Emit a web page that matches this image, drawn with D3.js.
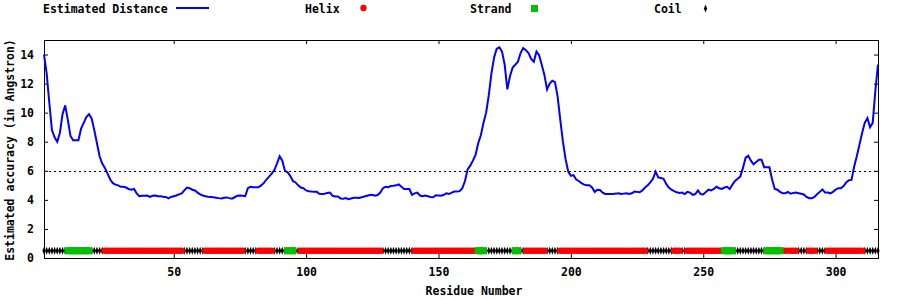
<!DOCTYPE html>
<html>
<head>
<meta charset="utf-8">
<script src="https://cdn.jsdelivr.net/npm/d3@7"></script>
<style>
  body { margin: 0; background: #fff; }
  svg text {
    font-family: "DejaVu Sans Mono", "Liberation Mono", monospace;
    font-weight: bold;
    font-size: 11.5px;
    fill: #000;
  }
</style>
</head>
<body>
<svg id="chart" width="900" height="300"></svg>
<script>
  "use strict";

  // estimated distance per residue, residue 1 .. 316
  const distance = [
    14.0, 12.7, 10.7, 8.8, 8.3, 8.0, 8.6, 9.9, 10.5, 9.5,
    8.4, 8.1, 8.1, 8.1, 8.9, 9.3, 9.7, 9.9, 9.6, 8.8,
    7.9, 7.0, 6.5, 6.2, 5.8, 5.4, 5.15, 5.05, 5.0, 4.9,
    4.9, 4.85, 4.75, 4.7, 4.75, 4.45, 4.25, 4.28, 4.28, 4.3,
    4.2, 4.28, 4.3, 4.25, 4.25, 4.22, 4.2, 4.1, 4.2, 4.25,
    4.3, 4.38, 4.45, 4.65, 4.85, 4.8, 4.7, 4.65, 4.5, 4.38,
    4.3, 4.25, 4.22, 4.2, 4.18, 4.15, 4.12, 4.1, 4.15, 4.17,
    4.12, 4.08, 4.18, 4.28, 4.3, 4.28, 4.25, 4.8, 4.9, 4.87,
    4.87, 4.87, 5.0, 5.15, 5.4, 5.6, 5.8, 6.05, 6.5, 7.0,
    6.7, 6.0, 5.9, 5.65, 5.3, 5.2, 5.0, 4.85, 4.8, 4.65,
    4.6, 4.57, 4.55, 4.55, 4.42, 4.4, 4.42, 4.48, 4.5, 4.28,
    4.23, 4.23, 4.1, 4.08, 4.12, 4.05, 4.1, 4.14, 4.14, 4.13,
    4.18, 4.23, 4.28, 4.33, 4.35, 4.28, 4.33, 4.5, 4.8, 4.9,
    4.87, 4.95, 4.97, 5.0, 5.06, 4.9, 4.75, 4.75, 4.75, 4.35,
    4.45, 4.5, 4.3, 4.25, 4.3, 4.25, 4.2, 4.18, 4.32, 4.3,
    4.28, 4.35, 4.45, 4.4, 4.5, 4.57, 4.58, 4.6, 4.8, 5.3,
    6.1, 6.35, 6.7, 7.1, 7.9, 8.45, 9.3, 10.0, 11.2, 12.7,
    13.8, 14.4, 14.5, 14.2, 13.3, 11.6, 12.5, 13.1, 13.3, 13.5,
    14.1, 14.45, 14.3, 14.1, 13.7, 13.5, 14.2, 13.95, 13.3, 12.6,
    11.6, 12.0, 12.2, 12.1, 11.1, 9.5, 8.0, 6.8, 5.95, 5.65,
    5.7, 5.4, 5.3, 5.15, 5.05, 5.0, 5.0, 4.85, 4.55, 4.7,
    4.68, 4.5, 4.41, 4.41, 4.41, 4.41, 4.43, 4.46, 4.4, 4.43,
    4.46, 4.4, 4.45, 4.57, 4.55, 4.52, 4.65, 4.85, 5.0, 5.2,
    5.45, 5.95, 5.55, 5.5, 5.45, 5.1, 4.85, 4.7, 4.6, 4.52,
    4.47, 4.5, 4.4, 4.55, 4.5, 4.35, 4.4, 4.65, 4.4, 4.37,
    4.55, 4.7, 4.65, 4.75, 4.9, 4.8, 4.75, 4.85, 4.9, 4.75,
    5.05, 5.3, 5.45, 5.6, 6.2, 6.9, 7.03, 6.7, 6.45, 6.6,
    6.76, 6.76, 6.25, 6.25, 6.25, 5.4, 4.75, 4.7, 4.55, 4.46,
    4.46, 4.55, 4.42, 4.48, 4.5, 4.46, 4.42, 4.37, 4.2, 4.11,
    4.11, 4.2, 4.38, 4.55, 4.72, 4.5, 4.5, 4.45, 4.55, 4.7,
    4.8, 4.8, 4.95, 5.2, 5.35, 5.37, 6.3, 7.0, 7.8, 8.6,
    9.3, 9.63, 9.0, 9.3, 11.5, 13.3
  ];

  // secondary structure segments, [first residue, last residue]
  const helixSegments = [
    [24, 53], [62, 76], [82, 87], [98, 128], [141, 164], [183, 190],
    [196, 228], [239, 241], [244, 257], [280, 281], [283, 285],
    [290, 292], [297, 310]
  ];
  const strandSegments = [
    [10, 18], [93, 95], [165, 167], [179, 180], [258, 261], [274, 279]
  ];
  const coilSegments = [
    [1, 9], [19, 23], [54, 61], [77, 81], [88, 92], [96, 97],
    [129, 140], [168, 178], [181, 182], [191, 195], [229, 238],
    [242, 243], [262, 273], [282, 282], [286, 289], [293, 296],
    [311, 316]
  ];

  // the structure track sits at this height on the y axis
  const trackLevel = 0.5;

  const xTicks = [50, 100, 150, 200, 250, 300];
  const yTicks = [0, 2, 4, 6, 8, 10, 12, 14];
  const threshold = 6;

(function(){

  // plot frame
  const mLeft = 44, mRight = 878, mTop = 40, mBottom = 258;

  const svg = d3.select("#chart");

  const x = d3.scaleLinear().domain([1, distance.length]).range([mLeft, mRight]);
  const y = d3.scaleLinear().domain([0, 15]).range([mBottom, mTop]);

  // turns [start, end] segments into one point per residue
  function expand(segments){
    let pts = [];
    segments.forEach(([a, b]) => {
      for (let r = a; r <= b; r++) pts.push(r);
    });
    return pts;
  }

  // axes, ticks pointing inwards on all four sides
  svg.append("g")
     .attr("transform", `translate(0,${mBottom})`)
     .call(d3.axisBottom(x).tickValues(xTicks).tickSizeInner(-4).tickSizeOuter(0).tickPadding(10))
     .call(g => g.select(".domain").remove());
  svg.append("g")
     .attr("transform", `translate(0,${mTop})`)
     .call(d3.axisTop(x).tickValues(xTicks).tickSizeInner(-4).tickSizeOuter(0).tickFormat(""))
     .call(g => g.select(".domain").remove());
  svg.append("g")
     .attr("transform", `translate(${mLeft},0)`)
     .call(d3.axisLeft(y).tickValues(yTicks).tickSizeInner(-4).tickSizeOuter(0).tickPadding(10))
     .call(g => g.select(".domain").remove());
  svg.append("g")
     .attr("transform", `translate(${mRight},0)`)
     .call(d3.axisRight(y).tickValues(yTicks).tickSizeInner(-4).tickSizeOuter(0).tickFormat(""))
     .call(g => g.select(".domain").remove());

  svg.selectAll(".tick line").attr("stroke", "#000");
  svg.selectAll(".tick text")
     .attr("font-family", null)
     .attr("font-size", null);

  // border
  svg.append("rect")
     .attr("x", mLeft + 0.5).attr("y", mTop + 0.5)
     .attr("width", mRight - mLeft).attr("height", mBottom - mTop)
     .attr("fill", "none").attr("stroke", "#000").attr("stroke-width", 1);

  // dotted 6 angstrom line
  let ly = Math.round(y(threshold)) + 0.5;
  svg.append("line")
     .attr("x1", mLeft).attr("x2", mRight)
     .attr("y1", ly).attr("y2", ly)
     .attr("stroke", "#000").attr("stroke-width", 1)
     .attr("stroke-dasharray", "2,3");

  // distance curve
  const line = d3.line()
                 .x((d, i) => x(i + 1))
                 .y(d => y(d));
  svg.append("path")
     .datum(distance)
     .attr("d", line)
     .attr("fill", "none")
     .attr("stroke", "#0000ff")
     .attr("stroke-width", 2);

  // structure track: coil first, then helix and strand on top
  const ty = y(trackLevel);
  const diamond = d3.symbol().type(d3.symbolDiamond).size(9);

  svg.append("g").selectAll("path")
     .data(expand(coilSegments))
     .enter().append("path")
             .attr("d", diamond)
             .attr("transform", d => `translate(${x(d)},${ty}) scale(1,1.4)`)
             .attr("fill", "#000");

  svg.append("g").selectAll("circle")
     .data(expand(helixSegments))
     .enter().append("circle")
             .attr("cx", d => x(d))
             .attr("cy", ty)
             .attr("r", 3.3)
             .attr("fill", "#ff0000");

  svg.append("g").selectAll("rect")
     .data(expand(strandSegments))
     .enter().append("rect")
             .attr("x", d => x(d) - 3.5)
             .attr("y", ty - 3.5)
             .attr("width", 7)
             .attr("height", 7)
             .attr("fill", "#00c000");

  // axis titles
  svg.append("text")
     .attr("x", 474)
     .attr("y", 295)
     .attr("text-anchor", "middle")
     .text("Residue Number");

  svg.append("text")
     .attr("transform", `translate(14,${(mTop + mBottom) / 2 + 1}) rotate(-90)`)
     .attr("text-anchor", "middle")
     .text("Estimated accuracy (in Angstron)");

  // legend along the top
  const legend = svg.append("g");
  const lb = 12.5;

  legend.append("text").attr("x", 43).attr("y", lb).text("Estimated Distance");
  legend.append("line")
        .attr("x1", 176).attr("x2", 209)
        .attr("y1", 8).attr("y2", 8)
        .attr("stroke", "#0000ff").attr("stroke-width", 2);

  legend.append("text").attr("x", 305).attr("y", lb).text("Helix");
  legend.append("circle")
        .attr("cx", 363.5).attr("cy", 8).attr("r", 3.2)
        .attr("fill", "#ff0000");

  legend.append("text").attr("x", 470).attr("y", lb).text("Strand");
  legend.append("rect")
        .attr("x", 531).attr("y", 5).attr("width", 7).attr("height", 7)
        .attr("fill", "#00c000");

  legend.append("text").attr("x", 654).attr("y", lb).text("Coil");
  legend.append("path")
        .attr("d", diamond)
        .attr("transform", "translate(705.5,8.5) scale(1,1.4)")
        .attr("fill", "#000");

})();
</script>
</body>
</html>
